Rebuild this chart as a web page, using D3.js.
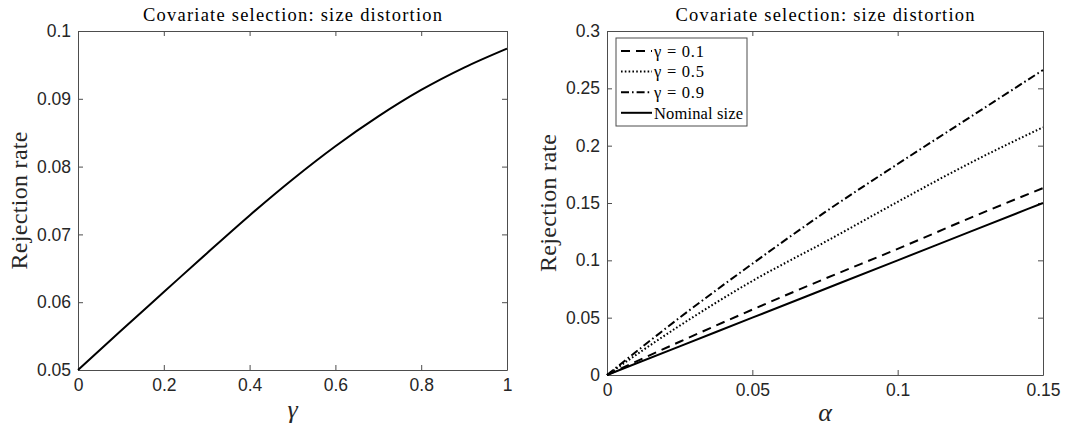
<!DOCTYPE html>
<html>
<head>
<meta charset="utf-8">
<script src="https://cdn.jsdelivr.net/npm/d3@7"></script>
<style>
  body { margin: 0; background: #fff; }
</style>
</head>
<body>
<svg id="chart" width="1086" height="434"></svg>
<script>
// left panel: size distortion against gamma
var gammaVals = [0, 0.1, 0.2, 0.3, 0.4, 0.5, 0.6, 0.7, 0.8, 0.9, 1];
var rejGamma = [0.05, 0.0558, 0.0615, 0.0672, 0.0728, 0.0781, 0.0830, 0.0874, 0.0913, 0.0946, 0.0974];
var leftXTicks = [0, 0.2, 0.4, 0.6, 0.8, 1];
var leftYTicks = [0.05, 0.06, 0.07, 0.08, 0.09, 0.1];

// right panel: rejection rate against alpha
var alphaVals = [0, 0.025, 0.05, 0.075, 0.1, 0.125, 0.15];
var rej01 = [0, 0.029, 0.057, 0.084, 0.110, 0.137, 0.163];
var rej05 = [0, 0.043, 0.082, 0.116, 0.151, 0.185, 0.216];
var rej09 = [0, 0.050, 0.097, 0.142, 0.184, 0.225, 0.266];
var nominal = [0, 0.025, 0.05, 0.075, 0.1, 0.125, 0.15];
var seriesNames = ["\u03b3 = 0.1", "\u03b3 = 0.5", "\u03b3 = 0.9", "Nominal size"];
var rightXTicks = [0, 0.05, 0.1, 0.15];
var rightYTicks = [0, 0.05, 0.1, 0.15, 0.2, 0.25, 0.3];

var svg = d3.select("#chart");
var axisColor = "#4d4d4d";
var sans = "'Liberation Sans', Arial, Helvetica, sans-serif";
var serif = "'Liberation Serif', 'Times New Roman', serif";
var dashes = ["9,6", "1.6,2.2", "8,3,1.6,3", null];

function panel(box, xdom, ydom, xt, yt, title, xlab, xlabDy) {
	var x = d3.scaleLinear().domain(xdom).range([box.l, box.r]);
	var y = d3.scaleLinear().domain(ydom).range([box.b, box.t]);
	var g = svg.append("g");

	var fmt = function(d) { return String(+d.toFixed(3)); };
	var ax = [
		[d3.axisBottom(x).tickValues(xt).tickFormat(fmt), box.b, true],
		[d3.axisTop(x).tickValues(xt).tickFormat(""), box.t, true],
		[d3.axisLeft(y).tickValues(yt).tickFormat(fmt), box.l, false],
		[d3.axisRight(y).tickValues(yt).tickFormat(""), box.r, false]
	];
	ax.forEach(function(a) {
		var ag = g.append("g")
			.attr("transform", a[2] ? "translate(0," + a[1] + ")" : "translate(" + a[1] + ",0)")
			.call(a[0].tickSizeInner(-5).tickSizeOuter(0).tickPadding(a[2] ? 9 : 7));
		ag.attr("font-family", sans).attr("font-size", 17.5);
		ag.select(".domain").attr("stroke", axisColor);
		ag.selectAll(".tick line").attr("stroke", axisColor);
		ag.selectAll(".tick text").attr("fill", "#262626");
	});

	g.append("text")
		.attr("x", (box.l + box.r) / 2).attr("y", 21)
		.attr("font-family", serif).attr("font-size", 18.5)
		.attr("textLength", 299).attr("lengthAdjust", "spacing")
		.attr("text-anchor", "middle").text(title);
	g.append("text")
		.attr("transform", "translate(" + (box.l - 59) + "," + ((box.t + box.b) / 2) + ") rotate(-90)")
		.attr("font-family", serif).attr("font-size", 24).attr("fill", "#262626")
		.attr("textLength", 138).attr("lengthAdjust", "spacing")
		.attr("text-anchor", "middle").attr("dy", "0.35em").text("Rejection rate");
	g.append("text")
		.attr("x", (box.l + box.r) / 2).attr("y", box.b + xlabDy)
		.attr("font-family", serif).attr("font-size", 26).attr("font-style", "italic").attr("fill", "#262626")
		.attr("text-anchor", "middle").text(xlab);
	return {x: x, y: y, g: g};
}

// left
var L = panel({l: 78, r: 507, t: 31, b: 370}, [0, 1], [0.05, 0.1], leftXTicks, leftYTicks,
	"Covariate selection: size distortion", "\u03b3", 48);
L.g.append("path")
	.datum(gammaVals.map(function(v, i) { return [v, rejGamma[i]]; }))
	.attr("fill", "none").attr("stroke", "#000").attr("stroke-width", 2)
	.attr("d", d3.line().x(function(d) { return L.x(d[0]); }).y(function(d) { return L.y(d[1]); })
		.curve(d3.curveMonotoneX));

// right
var R = panel({l: 607, r: 1043, t: 31, b: 375}, [0, 0.15], [0, 0.3], rightXTicks, rightYTicks,
	"Covariate selection: size distortion", "\u03b1", 46);
var series = [rej01, rej05, rej09, nominal];
var line = d3.line().x(function(d) { return R.x(d[0]); }).y(function(d) { return R.y(d[1]); })
	.curve(d3.curveMonotoneX);
series.forEach(function(s, k) {
	R.g.append("path")
		.datum(alphaVals.map(function(v, i) { return [v, s[i]]; }))
		.attr("fill", "none").attr("stroke", "#000").attr("stroke-width", 2)
		.attr("stroke-dasharray", dashes[k])
		.attr("d", line);
});

// legend
var leg = R.g.append("g");
leg.append("rect").attr("x", 616).attr("y", 38).attr("width", 131).attr("height", 88)
	.attr("fill", "#fff").attr("stroke", axisColor);
seriesNames.forEach(function(n, k) {
	var yy = 51 + k * 20.6;
	leg.append("line").attr("x1", 621).attr("x2", 652).attr("y1", yy).attr("y2", yy)
		.attr("stroke", "#000").attr("stroke-width", 2).attr("stroke-dasharray", dashes[k]);
	leg.append("text").attr("x", 654).attr("y", yy).attr("dy", "0.35em")
		.attr("font-family", serif).attr("font-size", 16.5)
		.attr("textLength", k < 3 ? 50 : 89).attr("lengthAdjust", "spacing")
		.text(n);
});
</script>
</body>
</html>
